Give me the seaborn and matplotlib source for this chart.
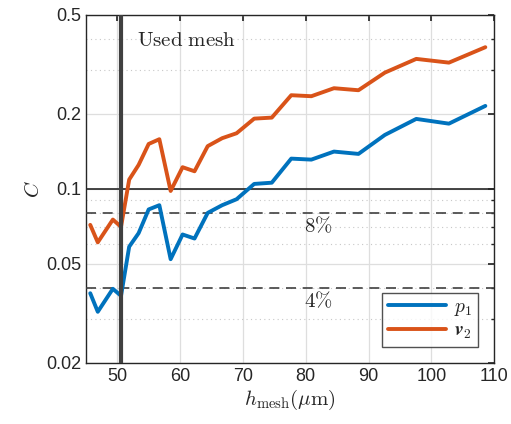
import matplotlib
matplotlib.use("Agg")
from matplotlib import pyplot as plt
from matplotlib.ticker import FixedLocator, NullFormatter
import pandas as pd
import seaborn as sns

# mesh size (um)
h_mesh = [45.7, 46.9, 49.3, 50.6, 51.9, 53.4, 55.0, 56.7, 58.5, 60.4, 62.3, 64.4,
          66.7, 69.0, 71.8, 74.6, 77.7, 80.9, 84.5, 88.4, 92.6, 97.6, 102.8, 108.6]
C_p1 = [0.0381, 0.0321, 0.0397, 0.0372, 0.0586, 0.0664, 0.0827, 0.0860, 0.0522, 0.0656,
        0.0632, 0.0801, 0.0860, 0.0909, 0.1047, 0.1059, 0.1323, 0.1311, 0.1412, 0.1382,
        0.1647, 0.1910, 0.1828, 0.2154]
C_v2 = [0.0717, 0.0610, 0.0753, 0.0704, 0.1090, 0.1248, 0.1515, 0.1583, 0.0981, 0.1222,
        0.1177, 0.1485, 0.1598, 0.1673, 0.1915, 0.1933, 0.2378, 0.2356, 0.2537, 0.2490,
        0.2930, 0.3327, 0.3214, 0.3707]
series = ["p1", "v2"]
labels = [r"$p_1$", r"$\boldsymbol{v}_2$"]
used_mesh = 50.6
y_ticks = [0.02, 0.05, 0.1, 0.2, 0.5]
x_ticks = [50, 60, 70, 80, 90, 100, 110]

df = pd.DataFrame({
    "h": h_mesh * 2,
    "C": C_p1 + C_v2,
    "var": ["p1"] * len(h_mesh) + ["v2"] * len(h_mesh),
})

sns.set_theme(style="white")
plt.rcParams["mathtext.fontset"] = "cm"
plt.rcParams["font.family"] = ["Liberation Sans", "DejaVu Sans"]

fig = plt.figure(figsize=(5.11, 4.24), dpi=100)
ax = fig.add_axes([0.168, 0.144, 0.799, 0.821])

colors = {"p1": "#0072BD", "v2": "#D95319"}
sns.lineplot(data=df, x="h", y="C", hue="var", palette=colors, linewidth=2.8,
             ax=ax, legend=False, zorder=5)

ax.set_yscale("log")
ax.set_xlim(45, 110)
ax.set_ylim(0.02, 0.5)

ax.yaxis.set_major_locator(FixedLocator(y_ticks))
ax.set_yticklabels([str(t) for t in y_ticks])
minor_y = [0.03, 0.04, 0.06, 0.07, 0.08, 0.09, 0.3, 0.4]
ax.yaxis.set_minor_locator(FixedLocator(minor_y))
ax.yaxis.set_minor_formatter(NullFormatter())
ax.set_xticks(x_ticks)

ax.grid(which="major", color="#dedede", linewidth=0.9)
ax.grid(which="minor", axis="y", color="#c8c8c8", linestyle=(0, (1, 3)), linewidth=0.8)
ax.set_axisbelow(True)

ax.tick_params(which="both", direction="in", top=True, right=True,
               color="#262626", labelsize=13, labelcolor="#262626")
ax.tick_params(which="major", length=4)
ax.tick_params(which="minor", length=2)
for s in ax.spines.values():
    s.set_color("#262626")
    s.set_linewidth(1.0)

ax.axhline(0.1, color="#262626", linewidth=1.2, zorder=3)
ax.axhline(0.08, color="#404040", linewidth=1.2, linestyle=(0, (6, 4)), zorder=3)
ax.axhline(0.04, color="#404040", linewidth=1.2, linestyle=(0, (6, 4)), zorder=3)
ax.axvline(used_mesh, color="#404040", linewidth=3.0, zorder=6)

ax.text(53.1, 0.395, r"$\mathrm{Used\ mesh}$", fontsize=15, va="center", ha="left")
ax.text(82.0, 0.071, r"$8\%$", fontsize=15, va="center", ha="center")
ax.text(82.0, 0.0355, r"$4\%$", fontsize=15, va="center", ha="center")

ax.set_xlabel(r"$h_{\mathrm{mesh}}(\mu\mathrm{m})$", fontsize=15, labelpad=2)
ax.set_ylabel(r"$C$", fontsize=15, labelpad=2)

handles = ax.get_lines()[:2]
leg = ax.legend(handles, labels, loc="lower right", fontsize=14, frameon=True,
                fancybox=False, edgecolor="#262626", handlelength=3.0,
                handletextpad=0.4, borderpad=0.3, labelspacing=0.2,
                borderaxespad=0, bbox_to_anchor=(0.961, 0.046))
leg.get_frame().set_linewidth(1.0)

fig.savefig("out.png", dpi=100)
